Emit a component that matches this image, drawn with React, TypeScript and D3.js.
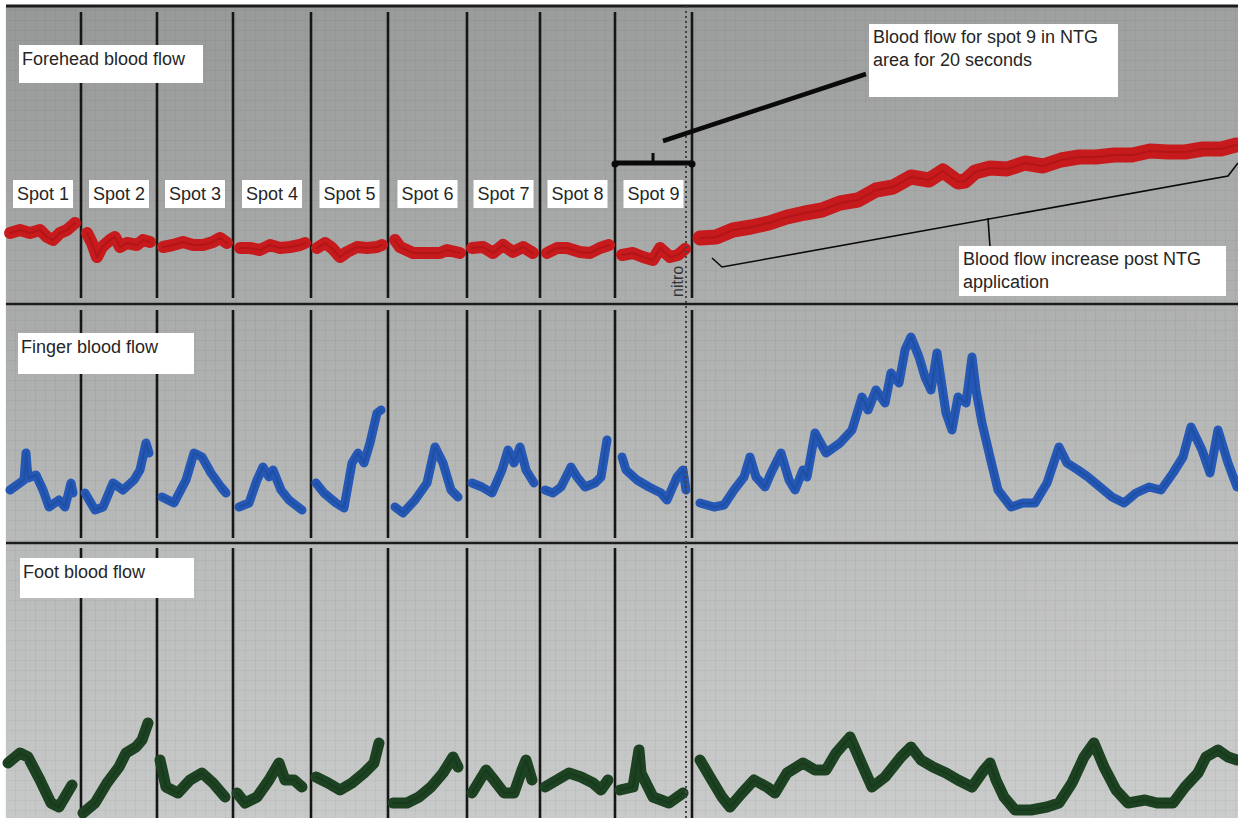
import React, { useEffect, useRef } from "react";
import * as d3 from "d3";

const W = 1238;
const H = 818;

const spotLabels = ["Spot 1", "Spot 2", "Spot 3", "Spot 4", "Spot 5", "Spot 6", "Spot 7", "Spot 8", "Spot 9"];
// sample index where each spot recording ends (last one = NTG applied)
const spotEnds = [76, 152, 228, 306, 383, 462, 535, 610, 687];
const nitroAt = 681;

// forehead flux, one array per spot: [sample, value]
const foreheadSpots: [number, number][][] = [
  [[5, 71], [15, 74], [25, 71], [35, 74], [42, 67], [48, 64], [55, 71], [62, 74], [70, 81]],
  [[82, 71], [87, 61], [92, 47], [97, 57], [105, 64], [110, 67], [115, 57], [122, 61], [132, 59], [138, 64], [145, 62]],
  [[158, 57], [168, 59], [178, 62], [188, 59], [198, 59], [208, 62], [215, 66], [222, 61]],
  [[235, 56], [245, 56], [255, 54], [265, 59], [275, 56], [285, 57], [295, 59], [300, 61]],
  [[312, 56], [320, 61], [327, 56], [335, 47], [342, 52], [352, 57], [362, 56], [372, 57], [377, 59]],
  [[390, 64], [395, 57], [408, 51], [422, 51], [435, 51], [442, 54], [455, 51]],
  [[467, 56], [478, 57], [488, 51], [498, 59], [508, 52], [518, 57], [528, 51]],
  [[542, 51], [552, 56], [562, 56], [575, 52], [585, 51], [595, 56], [604, 59]],
  [[617, 49], [628, 51], [638, 47], [648, 44], [655, 56], [665, 47], [673, 49], [680, 55]],
];
const foreheadPost: [number, number][] = [
  [695, 66], [711, 67], [728, 74], [746, 77], [764, 81], [782, 87], [800, 91], [817, 94], [835, 101], [853, 104],
  [871, 114], [888, 117], [906, 127], [924, 124], [938, 133], [953, 122], [960, 123], [970, 132], [985, 136],
  [1002, 135], [1020, 141], [1038, 138], [1056, 144], [1074, 147], [1091, 147], [1109, 149], [1127, 149],
  [1145, 153], [1163, 152], [1180, 152], [1198, 155], [1216, 155], [1231, 159],
];

const fingerSpots: [number, number][][] = [
  [[5, 53], [19, 63], [21, 90], [23, 65], [31, 68], [38, 53], [44, 36], [54, 43], [60, 36], [66, 60], [68, 50]],
  [[80, 50], [90, 33], [98, 36], [108, 60], [118, 53], [129, 63], [135, 73], [141, 100], [144, 90]],
  [[157, 46], [169, 40], [181, 63], [189, 90], [197, 86], [206, 70], [216, 56], [221, 50]],
  [[234, 36], [244, 40], [252, 63], [258, 76], [264, 66], [268, 73], [276, 53], [284, 43], [297, 33]],
  [[311, 60], [319, 50], [331, 40], [339, 35], [347, 80], [353, 90], [359, 80], [365, 100], [372, 130], [376, 133]],
  [[390, 36], [398, 30], [410, 43], [422, 60], [430, 96], [438, 80], [446, 53], [453, 46]],
  [[467, 60], [477, 56], [487, 50], [497, 73], [503, 93], [509, 80], [515, 96], [521, 73], [529, 60]],
  [[540, 53], [548, 50], [556, 56], [566, 76], [572, 66], [580, 56], [590, 60], [596, 66], [602, 103]],
  [[617, 86], [621, 73], [632, 63], [644, 56], [656, 50], [662, 43], [672, 66], [678, 73], [681, 53]],
];
const fingerPost: [number, number][] = [
  [695, 40], [709, 36], [719, 38], [729, 53], [739, 66], [745, 86], [751, 66], [760, 56], [766, 70], [776, 90],
  [784, 63], [790, 53], [798, 73], [802, 66], [810, 110], [821, 90], [835, 100], [847, 113], [857, 146], [863, 133],
  [871, 153], [880, 140], [886, 170], [894, 160], [900, 193], [906, 206], [914, 186], [920, 166], [926, 153],
  [932, 190], [941, 130], [947, 113], [953, 146], [961, 140], [967, 186], [971, 153], [977, 120], [985, 86],
  [993, 53], [1006, 36], [1018, 40], [1030, 40], [1042, 60], [1054, 96], [1062, 80], [1073, 73], [1083, 66],
  [1095, 56], [1107, 46], [1119, 40], [1131, 50], [1144, 56], [1156, 53], [1168, 70], [1178, 86], [1186, 116],
  [1197, 93], [1205, 70], [1213, 113], [1223, 80], [1232, 56],
];

const footSpots: [number, number][][] = [
  [[3, 55], [15, 65], [23, 61], [35, 38], [46, 15], [54, 11], [64, 28], [67, 33]],
  [[78, 5], [90, 15], [102, 35], [114, 51], [121, 65], [131, 71], [137, 78], [143, 95]],
  [[155, 58], [161, 31], [173, 25], [185, 38], [197, 45], [208, 35], [220, 21]],
  [[232, 25], [240, 15], [252, 21], [264, 38], [274, 55], [280, 38], [289, 38], [297, 31]],
  [[311, 41], [323, 35], [335, 28], [347, 35], [359, 45], [369, 55], [374, 75]],
  [[388, 15], [402, 15], [414, 21], [426, 31], [438, 45], [448, 61], [453, 51]],
  [[467, 25], [481, 48], [489, 38], [499, 25], [509, 25], [517, 48], [521, 58], [527, 38]],
  [[540, 31], [552, 38], [564, 45], [576, 41], [588, 35], [596, 28], [603, 38]],
  [[615, 28], [628, 31], [634, 68], [636, 45], [648, 21], [664, 15], [678, 25]],
];
const footPost: [number, number][] = [
  [695, 58], [705, 41], [717, 21], [725, 11], [737, 25], [749, 38], [762, 31], [770, 25], [782, 45], [798, 55],
  [810, 48], [821, 48], [831, 65], [845, 81], [855, 58], [867, 31], [880, 41], [896, 61], [906, 71], [916, 58],
  [928, 51], [941, 45], [953, 38], [967, 31], [979, 48], [985, 55], [991, 38], [999, 21], [1010, 8], [1026, 8],
  [1042, 11], [1054, 15], [1067, 35], [1079, 61], [1089, 75], [1099, 51], [1111, 28], [1123, 15], [1140, 18],
  [1152, 15], [1168, 15], [1180, 31], [1193, 45], [1201, 61], [1213, 68], [1223, 61], [1232, 58],
];

const titles = ["Forehead blood flow", "Finger blood flow", "Foot blood flow"];
const noteTop = ["Blood flow for spot 9 in NTG", "area for 20 seconds"];
const noteBottom = ["Blood flow increase post NTG", "application"];

const FONT = "'Liberation Sans', Arial, sans-serif";

const App = () => {
  const ref = useRef<SVGSVGElement>(null);

  useEffect(() => {
    const svg = d3.select(ref.current);
    svg.selectAll("*").remove();

    const x = d3.scaleLinear().domain([0, 1233]).range([5, W]);

    const panels = [
      { top: 6, bottom: 304, spots: foreheadSpots, post: foreheadPost, color: "#c61a1d", core: "#8e0d0d", width: 12, postWidth: 15, title: titles[0], box: [19, 45, 184, 38], lineTop: 12, lineBot: 298 },
      { top: 304, bottom: 543, spots: fingerSpots, post: fingerPost, color: "#2458b4", core: "#163f8a", width: 9, postWidth: 9, title: titles[1], box: [18, 333, 176, 41], lineTop: 310, lineBot: 538 },
      { top: 543, bottom: H, spots: footSpots, post: footPost, color: "#1d4222", core: "#0f2a13", width: 11, postWidth: 11, title: titles[2], box: [20, 558, 174, 40], lineTop: 548, lineBot: H },
    ];

    const defs = svg.append("defs");
    const grad = defs.append("linearGradient").attr("id", "bg").attr("x1", 0).attr("y1", 0).attr("x2", 0).attr("y2", 1);
    grad.append("stop").attr("offset", "0%").attr("stop-color", "#979998");
    grad.append("stop").attr("offset", "35%").attr("stop-color", "#a8aaa9");
    grad.append("stop").attr("offset", "65%").attr("stop-color", "#b8bab9");
    grad.append("stop").attr("offset", "100%").attr("stop-color", "#c7c9c8");
    const gradH = defs.append("linearGradient").attr("id", "bgH").attr("x1", 0).attr("y1", 0).attr("x2", 1).attr("y2", 0);
    gradH.append("stop").attr("offset", "0%").attr("stop-color", "#ffffff").attr("stop-opacity", 0);
    gradH.append("stop").attr("offset", "100%").attr("stop-color", "#ffffff").attr("stop-opacity", 0.08);

    svg.append("rect").attr("width", W).attr("height", H).attr("fill", "#ffffff");
    svg.append("rect").attr("x", 6).attr("y", 6).attr("width", W - 6).attr("height", H - 6).attr("fill", "url(#bg)");
    svg.append("rect").attr("x", 6).attr("y", 6).attr("width", W - 6).attr("height", H - 6).attr("fill", "url(#bgH)");

    // faint chart-recorder grid
    const grid = svg.append("g").attr("stroke", "#000").attr("stroke-opacity", 0.035).attr("stroke-width", 1);
    grid.selectAll("line.v")
      .data(d3.range(0, 1234, 10))
      .enter().append("line")
      .attr("x1", d => x(d) + 0.5).attr("x2", d => x(d) + 0.5)
      .attr("y1", 6).attr("y2", H);
    grid.selectAll("line.h")
      .data(d3.range(10, H, 10))
      .enter().append("line")
      .attr("x1", 6).attr("x2", W)
      .attr("y1", d => d + 0.5).attr("y2", d => d + 0.5);

    panels.forEach(p => {
      const y = d3.scaleLinear().domain([0, p.bottom - p.top]).range([p.bottom, p.top]);
      const line = d3.line<[number, number]>().x(d => x(d[0])).y(d => y(d[1]));

      // spot dividers
      svg.append("g")
        .selectAll("line")
        .data(spotEnds)
        .enter().append("line")
        .attr("x1", d => x(d)).attr("x2", d => x(d))
        .attr("y1", p.lineTop).attr("y2", p.lineBot)
        .attr("stroke", "#161616").attr("stroke-width", 2.6);

      const traces = svg.append("g").attr("fill", "none").attr("stroke-linejoin", "round").attr("stroke-linecap", "round");
      const all = [...p.spots, p.post];
      traces.selectAll("path.band")
        .data(all)
        .enter().append("path")
        .attr("d", d => line(d))
        .attr("stroke", p.color)
        .attr("stroke-width", (d, i) => (i === all.length - 1 ? p.postWidth : p.width));
      traces.selectAll("path.core")
        .data(all)
        .enter().append("path")
        .attr("d", d => line(d))
        .attr("stroke", p.core)
        .attr("stroke-opacity", 0.35)
        .attr("stroke-width", 2);

      // panel title box
      const [bx, by, bw, bh] = p.box;
      svg.append("rect").attr("x", bx).attr("y", by).attr("width", bw).attr("height", bh).attr("fill", "#fff");
      svg.append("text").attr("x", bx + 3).attr("y", by + 20)
        .attr("font-family", FONT).attr("font-size", 18).attr("fill", "#262626")
        .text(p.title);
    });

    // panel separators and top border
    svg.append("g")
      .selectAll("line")
      .data([6, 304, 543])
      .enter().append("line")
      .attr("x1", 6).attr("x2", W)
      .attr("y1", d => d).attr("y2", d => d)
      .attr("stroke", "#1c1c1c").attr("stroke-width", (d, i) => (i === 0 ? 3 : 2.5));

    // nitro marker
    svg.append("line")
      .attr("x1", x(nitroAt)).attr("x2", x(nitroAt))
      .attr("y1", 6).attr("y2", H)
      .attr("stroke", "#444").attr("stroke-width", 2).attr("stroke-dasharray", "2,3");
    svg.append("text")
      .attr("transform", `translate(${x(nitroAt) - 3},297) rotate(-90)`)
      .attr("font-family", FONT).attr("font-size", 16).attr("fill", "#333")
      .text("nitro");

    // spot labels, centred in each spot window
    const starts = [0, ...spotEnds.slice(0, -1)];
    const labels = svg.append("g");
    labels.selectAll("rect")
      .data(spotLabels)
      .enter().append("rect")
      .attr("x", (d, i) => x((starts[i] + spotEnds[i]) / 2) - 30)
      .attr("y", 180).attr("width", 60).attr("height", 28)
      .attr("fill", "#fff");
    labels.selectAll("text")
      .data(spotLabels)
      .enter().append("text")
      .attr("x", (d, i) => x((starts[i] + spotEnds[i]) / 2))
      .attr("y", 200)
      .attr("text-anchor", "middle")
      .attr("font-family", FONT).attr("font-size", 18).attr("fill", "#262626")
      .text(d => d);

    // top panel annotation: spot 9 bracket and pointer
    const yTop = d3.scaleLinear().domain([0, 298]).range([304, 6]);
    const ann = svg.append("g").attr("stroke", "#0a0a0a").attr("fill", "none");
    ann.append("line")
      .attr("x1", x(spotEnds[7])).attr("x2", x(spotEnds[8]))
      .attr("y1", yTop(141)).attr("y2", yTop(141))
      .attr("stroke-width", 5);
    ann.append("line")
      .attr("x1", x(648)).attr("x2", x(648))
      .attr("y1", yTop(141)).attr("y2", yTop(151))
      .attr("stroke-width", 3);
    ann.selectAll("circle")
      .data([spotEnds[7], spotEnds[8]])
      .enter().append("circle")
      .attr("cx", d => x(d)).attr("cy", yTop(140)).attr("r", 3.5)
      .attr("fill", "#0a0a0a").attr("stroke", "none");
    ann.append("line")
      .attr("x1", x(658)).attr("y1", yTop(163))
      .attr("x2", x(861)).attr("y2", yTop(230))
      .attr("stroke-width", 4.5);
    // post-NTG trend line with end hooks and tick
    ann.append("path")
      .attr("d", d3.line<[number, number]>().x(d => x(d[0])).y(d => yTop(d[1]))([
        [707, 46], [717, 37], [1223, 128], [1233, 141],
      ]))
      .attr("stroke-width", 1.6);
    ann.append("line")
      .attr("x1", x(983)).attr("x2", x(985))
      .attr("y1", yTop(86)).attr("y2", yTop(57))
      .attr("stroke-width", 1.6);

    const notes = [
      { lines: noteTop, box: [869, 24, 249, 73] },
      { lines: noteBottom, box: [959, 246, 267, 50] },
    ];
    notes.forEach(n => {
      const [bx, by, bw, bh] = n.box;
      svg.append("rect").attr("x", bx).attr("y", by).attr("width", bw).attr("height", bh).attr("fill", "#fff");
      svg.append("g").selectAll("text")
        .data(n.lines)
        .enter().append("text")
        .attr("x", bx + 4)
        .attr("y", (d, i) => by + 19 + i * 23)
        .attr("font-family", FONT).attr("font-size", 18).attr("fill", "#262626")
        .text(d => d);
    });
  }, []);

  return (
    <>
      <style>{`body{margin:0}`}</style>
      <svg ref={ref} width={W} height={H} style={{ display: "block" }}></svg>
    </>
  );
};

export default App;
